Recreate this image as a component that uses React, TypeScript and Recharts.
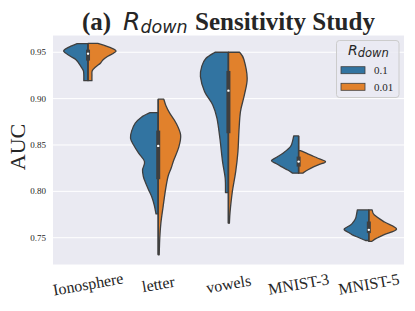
import React from 'react';
import { ComposedChart, Bar, XAxis, YAxis, CartesianGrid } from 'recharts';

// ---------- data ----------
const categories = ['Ionosphere', 'letter', 'vowels', 'MNIST-3', 'MNIST-5'];
const hueLabels = ['0.1', '0.01'];
const yTicks = [0.75, 0.8, 0.85, 0.9, 0.95];
const yDomain = [0.7206, 0.9686];

// density profiles: [AUC value, relative density (1 = widest)]
const ionoBlue = [[0.9593, 0.39], [0.9552, 0.7], [0.9511, 0.87], [0.9457, 0.63], [0.942, 0.43], [0.9385, 0.34], [0.934, 0.24], [0.93, 0.165], [0.925, 0.15], [0.9194, 0.15]];
const ionoOrange = [[0.9595, 0.35], [0.9552, 0.78], [0.9511, 1.0], [0.9457, 0.71], [0.942, 0.54], [0.9385, 0.45], [0.934, 0.27], [0.93, 0.15], [0.925, 0.14], [0.9194, 0.14]];
const letterBlue = [[0.8849, 0.29], [0.88, 0.6], [0.8735, 0.82], [0.865, 0.95], [0.8573, 0.99], [0.85, 0.88], [0.8412, 0.7], [0.8321, 0.49], [0.8232, 0.56], [0.816, 0.53], [0.8106, 0.47], [0.802, 0.35], [0.7944, 0.235], [0.785, 0.14], [0.7757, 0.08]];
const letterOrange = [[0.8994, 0.2], [0.892, 0.28], [0.8843, 0.41], [0.8735, 0.64], [0.8609, 0.8], [0.8483, 0.74], [0.834, 0.56], [0.825, 0.46], [0.816, 0.35], [0.8016, 0.26], [0.7836, 0.175], [0.7657, 0.095], [0.75, 0.056], [0.7316, 0.035]];
const vowelsBlue = [[0.95, 0.48], [0.9435, 0.8], [0.935, 0.95], [0.9237, 1.0], [0.9075, 0.85], [0.8932, 0.56], [0.8789, 0.41], [0.8573, 0.305], [0.8321, 0.21], [0.8142, 0.115], [0.7987, 0.105]];
const vowelsOrange = [[0.95, 0.4], [0.9425, 0.55], [0.922, 0.67], [0.904, 0.57], [0.886, 0.43], [0.8644, 0.375], [0.8429, 0.34], [0.8213, 0.26], [0.7998, 0.14], [0.7782, 0.06], [0.7657, 0.035]];
const mnist3Blue = [[0.8598, 0.175], [0.855, 0.21], [0.8483, 0.29], [0.8412, 0.56], [0.837, 0.77], [0.8332, 0.97], [0.83, 0.81], [0.8267, 0.62], [0.823, 0.39], [0.8196, 0.21]];
const mnist3Orange = [[0.844, 0.07], [0.8412, 0.28], [0.839, 0.435], [0.836, 0.67], [0.8321, 0.96], [0.829, 0.74], [0.8267, 0.55], [0.823, 0.32], [0.8196, 0.14]];
const mnist5Blue = [[0.78, 0.41], [0.775, 0.44], [0.7711, 0.47], [0.7675, 0.54], [0.7639, 0.64], [0.7593, 0.88], [0.756, 0.74], [0.7531, 0.59], [0.75, 0.35], [0.747, 0.12]];
const mnist5Orange = [[0.78, 0.12], [0.7747, 0.19], [0.7669, 0.56], [0.7593, 0.99], [0.7531, 0.53], [0.749, 0.25], [0.746, 0.1]];

// box stats: [min, q1, median, q3, max]
const ionoBox = [0.9194, 0.941, 0.9485, 0.9528, 0.9595];
const letterBox = [0.7316, 0.8131, 0.849, 0.8655, 0.8994];
const vowelsBox = [0.7657, 0.8627, 0.9086, 0.9298, 0.95];
const mnist3Box = [0.8196, 0.8267, 0.8321, 0.8375, 0.8598];
const mnist5Box = [0.746, 0.755, 0.7585, 0.7675, 0.78];

const blueProfiles = [ionoBlue, letterBlue, vowelsBlue, mnist3Blue, mnist5Blue];
const orangeProfiles = [ionoOrange, letterOrange, vowelsOrange, mnist3Orange, mnist5Orange];
const boxStats = [ionoBox, letterBox, vowelsBox, mnist3Box, mnist5Box];

const data = categories.map((name, i) => ({
  name,
  blue: blueProfiles[i],
  orange: orangeProfiles[i],
  box: boxStats[i],
  range: [boxStats[i][0], boxStats[i][4]],
}));

// ---------- styles ----------
const BLUE = '#3274a1';
const ORANGE = '#e1812c';
const EDGE = '#3f3f3f';
const TEXT = '#262626';
const SERIF = "'Liberation Serif', 'Times New Roman', serif";
const SANS = "'DejaVu Sans', sans-serif";

function smooth(pts: number[][]) {
  let d = '';
  for (let i = 0; i < pts.length - 1; i++) {
    const p0 = pts[i - 1] || pts[i];
    const p1 = pts[i];
    const p2 = pts[i + 1];
    const p3 = pts[i + 2] || pts[i + 1];
    const c1x = p1[0] + (p2[0] - p0[0]) / 6;
    let c1y = p1[1] + (p2[1] - p0[1]) / 6;
    const c2x = p2[0] - (p3[0] - p1[0]) / 6;
    let c2y = p2[1] - (p3[1] - p1[1]) / 6;
    const lo = Math.min(p1[1], p2[1]);
    const hi = Math.max(p1[1], p2[1]);
    c1y = Math.max(lo, Math.min(hi, c1y));
    c2y = Math.max(lo, Math.min(hi, c2y));
    d += ` C${c1x},${c1y} ${c2x},${c2y} ${p2[0]},${p2[1]}`;
  }
  return d;
}

const ViolinShape = (props: any) => {
  const { x, y, width, height, payload } = props;
  const top = Math.min(y, y + height);
  const h = Math.abs(height);
  const [lo, , , , hi] = payload.box;
  const toY = (v: number) => top + (h * (hi - v)) / (hi - lo);
  const cx = x + width / 2;
  const hw = width / 2;
  const half = (prof: number[][], sign: number) => {
    const pts = prof.map(([v, d]) => [cx + sign * d * hw, toY(v)]);
    const last = pts[pts.length - 1];
    return `M${cx},${pts[0][1]} L${pts[0][0]},${pts[0][1]}` + smooth(pts) + ` L${cx},${last[1]} Z`;
  };
  const [bmin, q1, med, q3, bmax] = payload.box;
  return (
    <g>
      <path d={half(payload.blue, -1)} fill={BLUE} stroke={EDGE} strokeWidth={1.3} strokeLinejoin="round" />
      <path d={half(payload.orange, 1)} fill={ORANGE} stroke={EDGE} strokeWidth={1.3} strokeLinejoin="round" />
      <line x1={cx} x2={cx} y1={toY(bmax)} y2={toY(bmin)} stroke={EDGE} strokeWidth={1.5} />
      <rect x={cx - 2} width={4} y={toY(q3)} height={toY(q1) - toY(q3)} fill={EDGE} />
      <circle cx={cx} cy={toY(med)} r={1.2} fill="#ffffff" />
    </g>
  );
};

const XTick = (props: any) => {
  const { x, y, payload } = props;
  const cy = y + 17;
  return (
    <text
      x={x}
      y={cy}
      textAnchor="middle"
      dominantBaseline="central"
      transform={`rotate(-10, ${x}, ${cy})`}
      style={{ fontFamily: SERIF }}
      fontSize={16}
      fill={TEXT}
    >
      {payload.value}
    </text>
  );
};

const YTick = (props: any) => {
  const { x, y, payload } = props;
  return (
    <text x={x} y={y} textAnchor="end" dominantBaseline="central" style={{ fontFamily: SERIF }} fontSize={9} fill={TEXT}>
      {Number(payload.value).toFixed(2)}
    </text>
  );
};

export default function App() {
  return (
    <div style={{ position: 'fixed', left: 0, top: 0, width: 415, height: 311, background: '#ffffff' }}>
      <ComposedChart
        width={415}
        height={311}
        data={data}
        margin={{ top: 35, right: 11, bottom: 0, left: 0 }}
        barCategoryGap="10%"
      >
        <CartesianGrid horizontal vertical={false} stroke="#ffffff" strokeWidth={1} fill="#eaeaf2" />
        <XAxis
          dataKey="name"
          type="category"
          height={46}
          tickLine={false}
          axisLine={false}
          tickSize={0}
          interval={0}
          tick={<XTick />}
        />
        <YAxis
          type="number"
          domain={yDomain}
          ticks={yTicks}
          allowDataOverflow
          width={53}
          tickLine={false}
          axisLine={false}
          tickSize={0}
          tickMargin={7}
          tick={<YTick />}
        />
        <Bar dataKey="range" isAnimationActive={false} shape={<ViolinShape />} />
      </ComposedChart>
      <svg width={415} height={311} style={{ position: 'absolute', left: 0, top: 0, pointerEvents: 'none' }}>
        <text x={82} y={30} style={{ fontFamily: SERIF }} fontWeight="bold" fontSize={25} fill={TEXT}>(a)</text>
        <text x={123} y={30} style={{ fontFamily: SANS }} fontStyle="italic" fontSize={25} fill={TEXT}>
          R<tspan fontSize={17.5} dy={2.5}>down</tspan>
        </text>
        <text x={195} y={30} style={{ fontFamily: SERIF }} fontWeight="bold" fontSize={25} fill={TEXT}>Sensitivity Study</text>
        <text
          x={17}
          y={147}
          transform="rotate(-90, 17, 147)"
          textAnchor="middle"
          dominantBaseline="central"
          style={{ fontFamily: SERIF }}
          fontSize={22}
          fill={TEXT}
        >
          AUC
        </text>
        <rect x={336.5} y={40.5} width={62.5} height={57} rx={3} fill="#eaeaf2" fillOpacity={0.8} stroke="#cccccc" />
        <text x={348} y={55} style={{ fontFamily: SANS }} fontStyle="italic" fontSize={14} fill={TEXT}>
          R<tspan fontSize={11.5} dy={2}>down</tspan>
        </text>
        <rect x={341} y={66.7} width={24} height={7} fill={BLUE} stroke={EDGE} strokeWidth={0.8} />
        <rect x={341} y={83.3} width={24} height={7} fill={ORANGE} stroke={EDGE} strokeWidth={0.8} />
        <text x={374} y={74} style={{ fontFamily: SERIF }} fontSize={11} fill={TEXT}>{hueLabels[0]}</text>
        <text x={374} y={90.5} style={{ fontFamily: SERIF }} fontSize={11} fill={TEXT}>{hueLabels[1]}</text>
      </svg>
    </div>
  );
}
